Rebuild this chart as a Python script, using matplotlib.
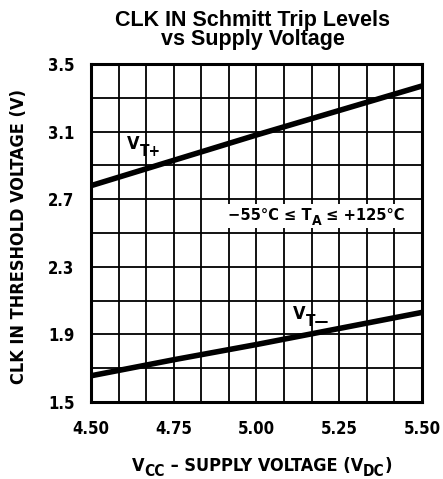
import matplotlib
matplotlib.use("Agg")
import matplotlib.pyplot as plt
import numpy as np
from matplotlib import font_manager
from matplotlib.font_manager import FontProperties
from matplotlib.patches import Rectangle

cond = None
for f in font_manager.fontManager.ttflist:
    if f.fname.endswith('DejaVuSansCondensed-Bold.ttf'):
        cond = f.fname
        break

def fp(size):
    if cond:
        return FontProperties(fname=cond, size=size)
    return FontProperties(family='DejaVu Sans', weight='bold', size=size)

# Data
vcc = [4.50, 4.75, 5.00, 5.25, 5.50]
vt_plus = [2.78, 2.93, 3.08, 3.225, 3.37]
vt_minus = [1.655, 1.75, 1.84, 1.935, 2.03]
xticks = [4.50, 4.75, 5.00, 5.25, 5.50]
xticklabels = ["4.50", "4.75", "5.00", "5.25", "5.50"]
yticks = [1.5, 1.9, 2.3, 2.7, 3.1, 3.5]
yticklabels = ["1.5", "1.9", "2.3", "2.7", "3.1", "3.5"]

fig = plt.figure(figsize=(4.43, 4.79), dpi=100)
ax = fig.add_axes([0.2054, 0.1608, 0.7472, 0.7056])
ax.set_xlim(4.5, 5.5)
ax.set_ylim(1.5, 3.5)

# grid
for xv in np.linspace(4.5, 5.5, 13)[1:-1]:
    ax.axvline(xv, color='black', lw=1.3, zorder=1)
for yv in np.linspace(1.5, 3.5, 11)[1:-1]:
    ax.axhline(yv, color='black', lw=1.3, zorder=1)

# white band behind the temperature note
ax.add_patch(Rectangle((4.905, 2.53), 0.595, 0.14, facecolor='white',
                       edgecolor='none', zorder=2))

ax.plot(vcc, vt_plus, color='black', lw=4, solid_capstyle='butt', zorder=3)
ax.plot(vcc, vt_minus, color='black', lw=4, solid_capstyle='butt', zorder=3)

for s in ax.spines.values():
    s.set_linewidth(2.2)
    s.set_zorder(5)

ax.set_xticks(xticks)
ax.set_xticklabels(xticklabels)
ax.set_yticks(yticks)
ax.set_yticklabels(yticklabels)
ax.tick_params(length=0)
for lab in ax.get_xticklabels() + ax.get_yticklabels():
    lab.set_fontproperties(fp(12))
ax.tick_params(axis='y', pad=12)
ax.tick_params(axis='x', pad=13)


def chain(x, y, pieces, size, transform, sub_scale=0.85, sub_drop=-4.0):
    """pieces: list of (string, is_subscript)."""
    first_txt, _ = pieces[0]
    t0 = ax.text(x, y, first_txt, fontproperties=fp(size), ha='left',
                 va='bottom', transform=transform, zorder=4, clip_on=False)
    prev = t0
    for s, is_sub in pieces[1:]:
        prev = ax.annotate(s, xy=(1, 0), xycoords=(prev, t0),
                           xytext=(0, sub_drop if is_sub else 0),
                           textcoords='offset points',
                           fontproperties=fp(size * sub_scale if is_sub else size),
                           ha='left', va='bottom', zorder=4,
                           annotation_clip=False)
    return t0


chain(4.609, 2.972, [("V", False), ("T+", True)], 13, ax.transData)
chain(5.11, 1.965, [("V", False), ("T\u2014", True)], 13, ax.transData)
chain(4.914, 2.56, [("\u221255\u00b0C \u2264 T", False), ("A", True),
                    (" \u2264 +125\u00b0C", False)], 11.8, ax.transData)

chain(0.297, 0.008, [("V", False), ("CC", True),
                     (" \u2013 SUPPLY VOLTAGE (V", False), ("DC", True),
                     (")", False)], 13, fig.transFigure, sub_drop=-3.0)

fig.text(0.043, 0.507, 'CLK IN THRESHOLD VOLTAGE (V)', rotation=90,
         ha='center', va='center', fontproperties=fp(13))

fig.text(0.571, 0.937, 'CLK IN Schmitt Trip Levels\nvs Supply Voltage',
         ha='center', va='center', fontsize=15.5, fontweight='bold',
         family='Liberation Sans', linespacing=0.85)

fig.savefig('out.png', dpi=100)
